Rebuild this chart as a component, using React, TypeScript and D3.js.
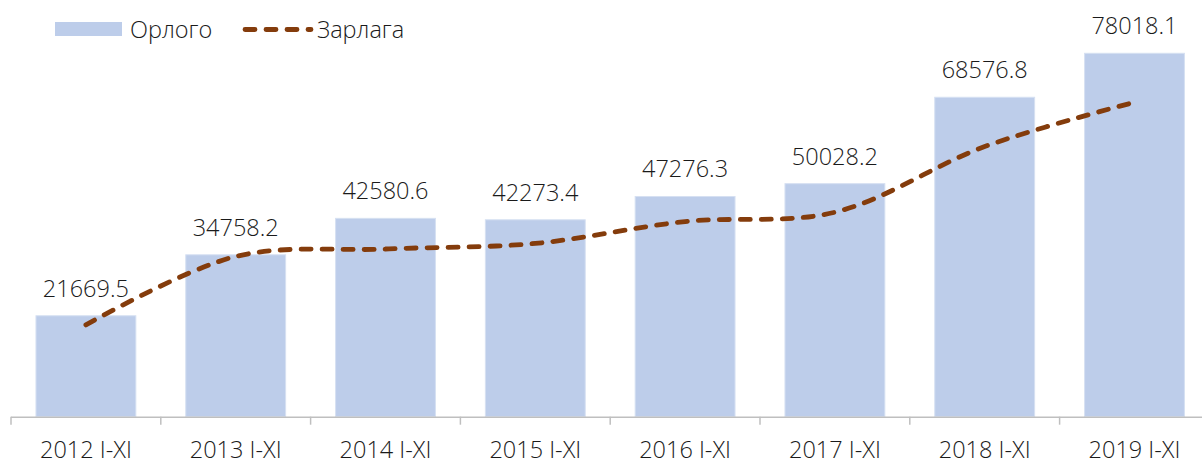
import React, { useEffect, useRef } from "react";
import * as d3 from "d3";

// chart data
const categories = ["2012 I-XI", "2013 I-XI", "2014 I-XI", "2015 I-XI", "2016 I-XI", "2017 I-XI", "2018 I-XI", "2019 I-XI"];
const orlogo = [21669.5, 34758.2, 42580.6, 42273.4, 47276.3, 50028.2, 68576.8, 78018.1];
const zarlaga = [19700, 34400, 36000, 37200, 41900, 43900, 58000, 67500];
const seriesNames = ["Орлого", "Зарлага"];

const W = 1202;
const H = 459;
const FONT = "'Open Sans', sans-serif";
const FS = 23.5;

export default function App() {
  const ref = useRef<SVGSVGElement | null>(null);

  useEffect(() => {
    const svg = d3.select(ref.current);
    svg.selectAll("*").remove();

    const base = 416.7;
    const x = d3.scaleBand<string>().domain(categories).range([11, 11 + 8 * 149.8])
      .paddingInner(1 / 3).paddingOuter(1 / 6);
    const y = d3.scaleLinear().domain([0, 80000]).range([base, base - 80000 * 0.004658]);

    const txt = (sel: any) => sel
      .attr("font-family", FONT)
      .attr("font-size", FS)
      .attr("font-weight", 300)
      .attr("fill", "#1a1a1a");

    // bars
    svg.append("g").selectAll("rect").data(orlogo).join("rect")
      .attr("x", (d, i) => x(categories[i])!)
      .attr("width", x.bandwidth())
      .attr("y", d => y(d))
      .attr("height", d => base - y(d))
      .attr("fill", "#bdcdea")
      .attr("stroke", "#d6e0f2")
      .attr("stroke-width", 1);

    // value labels
    svg.append("g").selectAll("text").data(orlogo).join("text")
      .attr("x", (d, i) => x(categories[i])! + x.bandwidth() / 2)
      .attr("y", d => y(d) - 19)
      .attr("text-anchor", "middle")
      .call(txt)
      .text(d => d.toFixed(1));

    // axis
    const step = x.step();
    const ax = svg.append("g");
    ax.append("line").attr("x1", 11).attr("x2", W).attr("y1", base + 0.5).attr("y2", base + 0.5)
      .attr("stroke", "#bfbfbf").attr("stroke-width", 1.5);
    ax.selectAll("line.tick").data(d3.range(0, 8)).join("line")
      .attr("class", "tick")
      .attr("x1", i => 11 + i * step).attr("x2", i => 11 + i * step)
      .attr("y1", base).attr("y2", base + 8)
      .attr("stroke", "#bfbfbf").attr("stroke-width", 1.5);
    ax.selectAll("text").data(categories).join("text")
      .attr("x", d => x(d)! + x.bandwidth() / 2)
      .attr("y", 458)
      .attr("text-anchor", "middle")
      .call(txt)
      .text(d => d);

    // line
    const line = d3.line<number>()
      .x((d, i) => x(categories[i])! + x.bandwidth() / 2)
      .y(d => y(d))
      .curve(d3.curveCatmullRom.alpha(0.5));
    svg.append("path").attr("d", line(zarlaga))
      .attr("fill", "none")
      .attr("stroke", "#843c0c")
      .attr("stroke-width", 4.8)
      .attr("stroke-linecap", "round")
      .attr("stroke-dasharray", "10 11");

    // legend
    const lg = svg.append("g");
    lg.append("rect").attr("x", 55).attr("y", 22).attr("width", 67).attr("height", 14)
      .attr("fill", "#bdcdea");
    lg.append("text").attr("x", 130).attr("y", 37.5).call(txt).text(seriesNames[0]);
    lg.append("line").attr("x1", 245).attr("x2", 311).attr("y1", 29.5).attr("y2", 29.5)
      .attr("stroke", "#843c0c").attr("stroke-width", 4.8)
      .attr("stroke-linecap", "round").attr("stroke-dasharray", "10 11");
    lg.append("text").attr("x", 317).attr("y", 37.5).call(txt).text(seriesNames[1]);
  }, []);

  return (
    <svg ref={ref} width={W} height={H}
      style={{ position: "absolute", left: 0, top: 0, background: "#fff" }} />
  );
}
